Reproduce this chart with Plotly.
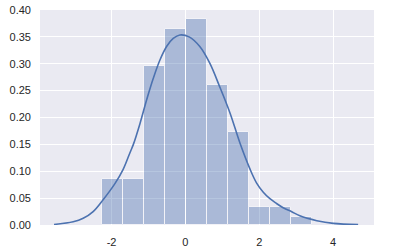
import plotly.graph_objects as go

# Histogram (density)
bin_edges = [-2.27, -1.70, -1.13, -0.56, 0.01, 0.59, 1.16, 1.73, 2.30, 2.87, 3.44]
densities = [0.0856, 0.0856, 0.296, 0.365, 0.383, 0.260, 0.173, 0.034, 0.034, 0.0155]

# KDE curve points
kde_x = [-3.56, -3.04, -2.77, -2.50, -2.23, -1.91, -1.69, -1.50, -1.41, -1.23, -1.05,
         -0.87, -0.69, -0.51, -0.33, -0.15, 0.10, 0.39, 0.66, 0.93, 1.21, 1.48, 1.75,
         1.93, 2.11, 2.29, 2.47, 2.65, 2.87, 3.10, 3.56, 4.01, 4.68]
kde_y = [0.001, 0.006, 0.0125, 0.025, 0.047, 0.077, 0.103, 0.135, 0.150, 0.189, 0.233,
         0.273, 0.307, 0.332, 0.347, 0.3535, 0.350, 0.332, 0.301, 0.257, 0.208, 0.152, 0.104,
         0.078, 0.061, 0.049, 0.040, 0.032, 0.025, 0.017, 0.008, 0.003, 0.001]

x_ticks = [-2, 0, 2, 4]
y_ticks = [0.0, 0.05, 0.10, 0.15, 0.20, 0.25, 0.30, 0.35, 0.40]

centers = [(a + b) / 2 for a, b in zip(bin_edges[:-1], bin_edges[1:])]
widths = [b - a for a, b in zip(bin_edges[:-1], bin_edges[1:])]

blue = "#4C72B0"
fig = go.Figure()
fig.add_trace(go.Bar(x=centers, y=densities, width=widths,
                     marker=dict(color=blue, line=dict(color="white", width=1)),
                     opacity=0.4, hoverinfo="skip"))
fig.add_trace(go.Scatter(x=kde_x, y=kde_y, mode="lines", line=dict(color=blue, width=1.6, shape="spline")))

fig.update_layout(
    width=411, height=248,
    margin=dict(l=40, r=37, t=10, b=23),
    paper_bgcolor="white", plot_bgcolor="#EAEAF2",
    showlegend=False, bargap=0,
    font=dict(family="Liberation Sans, Arial, sans-serif", size=11, color="#262626"),
)
fig.update_xaxes(range=[-3.94, 5.11], tickvals=x_ticks, ticktext=[str(v) for v in x_ticks],
                 showgrid=True, gridcolor="white", gridwidth=1, zeroline=False,
                 showline=False, ticks="", ticklabelstandoff=9, automargin=False)
fig.update_yaxes(range=[0, 0.4], tickvals=y_ticks, ticktext=[f"{v:.2f}" for v in y_ticks],
                 showgrid=True, gridcolor="white", gridwidth=1, zeroline=False,
                 showline=False, ticks="", ticklabelstandoff=8, automargin=False)

fig.write_html("out.html")
